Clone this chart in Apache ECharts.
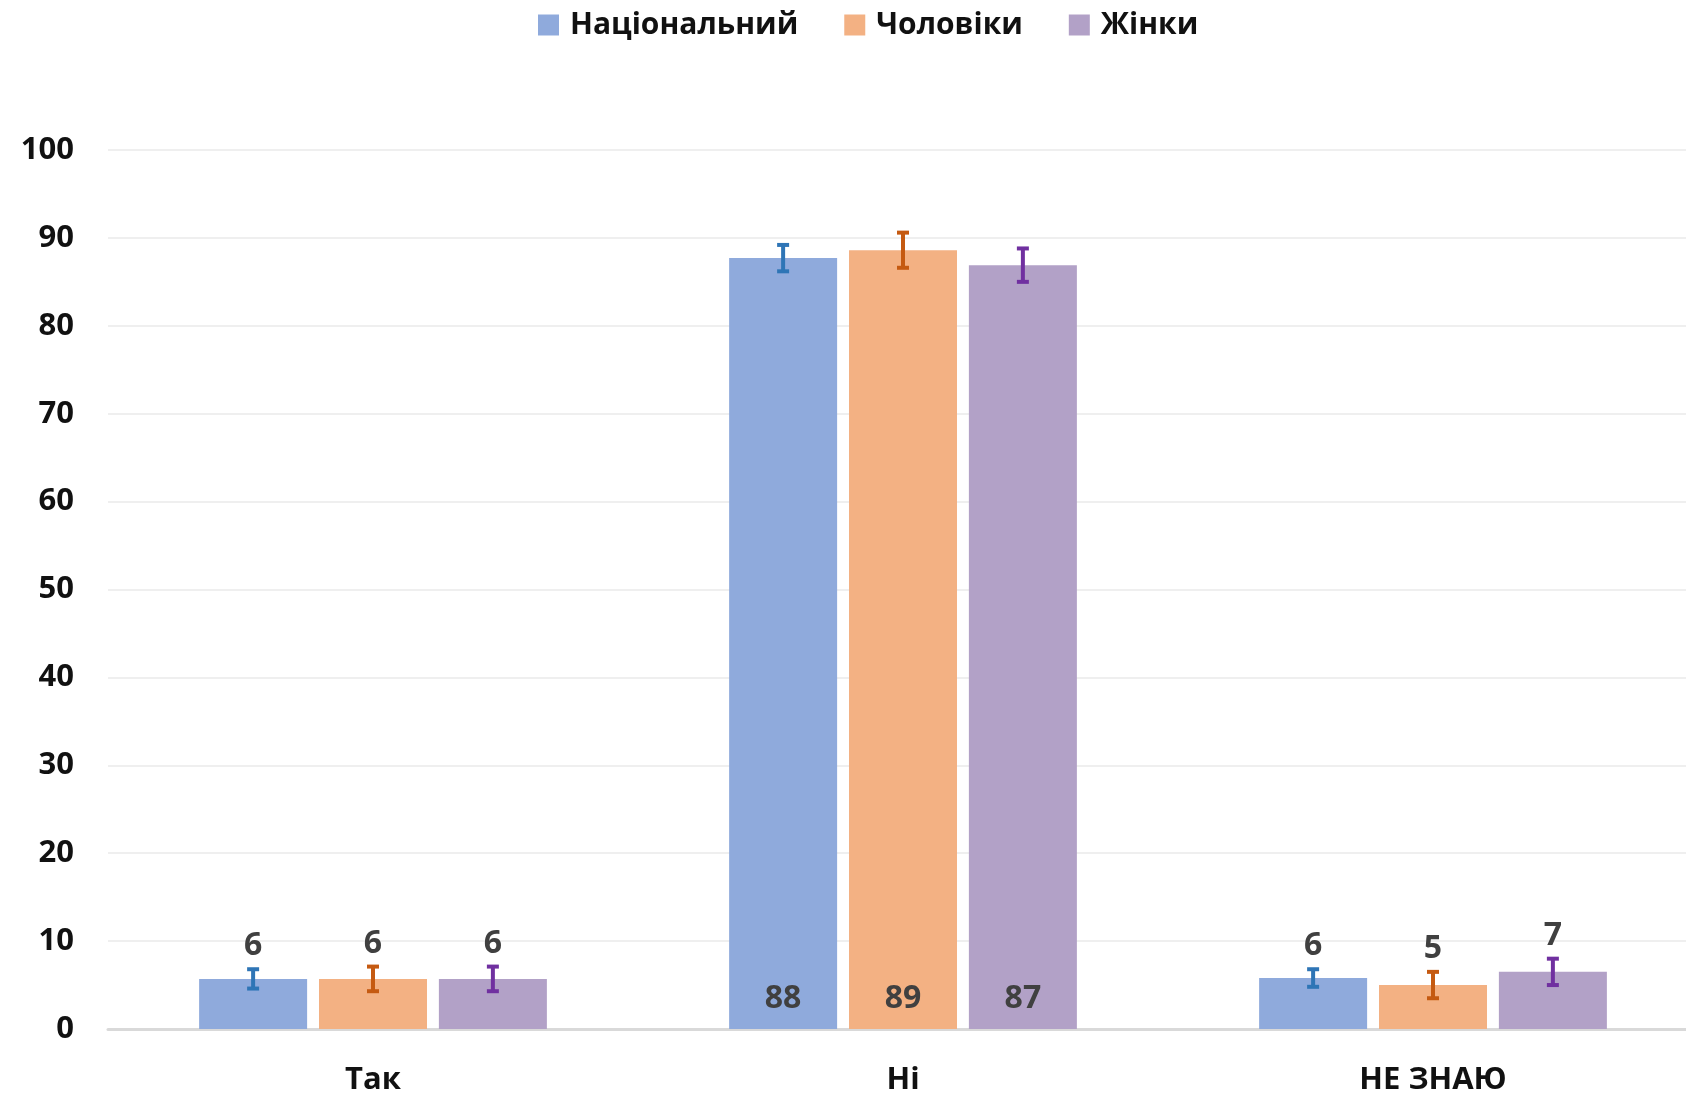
<!DOCTYPE html>
<html><head><meta charset="utf-8">
<script src="https://cdn.jsdelivr.net/npm/echarts@6/dist/echarts.min.js"></script>
<style>html,body{margin:0;padding:0;background:#fff}#c{width:1686px;height:1095px}</style>
</head><body><div id="c"></div>
<script>
const categories = ['Так', 'Ні', 'НЕ ЗНАЮ'];
const seriesNames = ['Національний', 'Чоловіки', 'Жінки'];
const national = [5.7, 87.7, 5.8];
const men = [5.7, 88.6, 5.0];
const women = [5.7, 86.9, 6.5];
const nationalErr = [1.1, 1.5, 1.0];
const menErr = [1.4, 2.0, 1.5];
const womenErr = [1.4, 1.9, 1.5];
const yMin = 0, yMax = 100, yInterval = 10;

const barColors = ['#8faadc', '#f3b183', '#b2a1c7'];
const errColors = ['#2e75b6', '#c55a11', '#7030a0'];
const FONT = '"Open Sans", "Noto Sans", sans-serif';
const BAR_W = 108, GAP_PCT = 11;
const STEP = BAR_W * (1 + GAP_PCT / 100);

const values = [national, men, women];
const errs = [nationalErr, menErr, womenErr];
const errData = [];
values.forEach((arr, si) => arr.forEach((v, ci) => errData.push([ci, v, errs[si][ci], si])));

const chart = echarts.init(document.getElementById('c'), null, {renderer: 'canvas'});
chart.setOption({
  animation: false,
  backgroundColor: '#fff',
  textStyle: {fontFamily: FONT},
  legend: {
    top: 5, left: 533, itemWidth: 21, itemHeight: 21, itemGap: 46,
    icon: 'rect',
    data: seriesNames,
    textStyle: {fontSize: 30, fontWeight: 'bold', color: '#111', fontFamily: FONT, padding: [0, 0, 0, 6]}
  },
  grid: {left: 108, width: 1590, top: 150, bottom: 66, containLabel: false, outerBoundsMode: 'none'},
  xAxis: {
    type: 'category', data: categories,
    axisLine: {lineStyle: {color: '#d9d9d9', width: 3}},
    axisTick: {show: false},
    axisLabel: {fontSize: 31, fontWeight: 'bold', color: '#111', margin: 36, fontFamily: FONT}
  },
  yAxis: {
    type: 'value', min: yMin, max: yMax, interval: yInterval,
    axisLine: {show: false}, axisTick: {show: false},
    splitLine: {lineStyle: {color: '#efefef', width: 2}},
    axisLabel: {fontSize: 31, fontWeight: 'bold', color: '#111', margin: 34, fontFamily: FONT}
  },
  series: values.map((arr, si) => ({
    type: 'bar', name: seriesNames[si], data: arr,
    barWidth: BAR_W, barGap: GAP_PCT + '%',
    itemStyle: {color: barColors[si]}
  })).concat([{
    type: 'custom', name: 'err', data: errData, z: 10, clip: false,
    renderItem: function (params, api) {
      const ci = api.value(0), v = api.value(1), e = api.value(2), si = api.value(3);
      const base = api.coord([ci, v]);
      const x = base[0] + (si - 1) * STEP;
      const top = api.coord([ci, v + e])[1];
      const bot = api.coord([ci, v - e])[1];
      const zero = api.coord([ci, 0])[1];
      const col = errColors[si];
      const ls = {stroke: col, lineWidth: 4};
      const big = v > 50;
      return {
        type: 'group', children: [
          {type: 'line', shape: {x1: x, y1: top, x2: x, y2: bot}, style: ls},
          {type: 'line', shape: {x1: x - 6, y1: top, x2: x + 6, y2: top}, style: ls},
          {type: 'line', shape: {x1: x - 6, y1: bot, x2: x + 6, y2: bot}, style: ls},
          {type: 'text', style: {
            text: String(Math.round(v)), x: x, y: big ? zero - 14 : top - 7,
            align: 'center', verticalAlign: 'bottom',
            font: 'bold 32px ' + FONT, fill: '#404040'
          }}
        ]
      };
    }
  }])
});
</script></body></html>
